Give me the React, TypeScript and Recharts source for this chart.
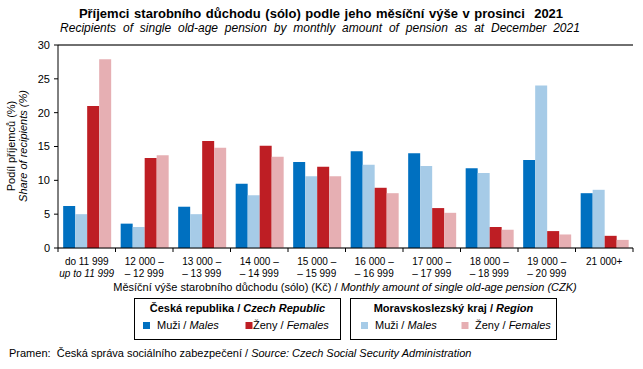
import React from "react";
import { BarChart, Bar, XAxis, YAxis, CartesianGrid, ReferenceLine } from "recharts";

const catLine1 = ["do 11 999", "12 000 –", "13 000 –", "14 000 –", "15 000 –", "16 000 –", "17 000 –", "18 000 –", "19 000 –", "21 000+"];
const catLine2 = ["up to 11 999", "– 12 999", "– 13 999", "– 14 999", "– 15 999", "– 16 999", "– 17 999", "– 18 999", "– 20 999", ""];
const czMales = [6.2, 3.6, 6.1, 9.5, 12.7, 14.3, 14.0, 11.8, 13.0, 8.1];
const regMales = [5.0, 3.1, 5.0, 7.8, 10.6, 12.3, 12.1, 11.1, 24.0, 8.6];
const czFemales = [21.0, 13.3, 15.8, 15.1, 12.0, 8.9, 5.9, 3.1, 2.5, 1.8];
const regFemales = [27.9, 13.7, 14.8, 13.5, 10.6, 8.1, 5.2, 2.7, 2.0, 1.2];
const yTicks = [0, 5, 10, 15, 20, 25, 30];

const COLORS = {
  czM: "#0070C0",
  regM: "#A6CBE7",
  czF: "#BE1E24",
  regF: "#E6AFB3",
};

const data = catLine1.map((c, i) => ({
  cat: c,
  czM: czMales[i],
  regM: regMales[i],
  czF: czFemales[i],
  regF: regFemales[i],
}));

const FONT = "'Liberation Sans', Arial, sans-serif";

const XTick = (props: any) => {
  const { x, y, payload } = props;
  const i = payload.index;
  const half = payload.offset ?? 0;
  const last = i === catLine1.length - 1;
  return (
    <g>
      <line x1={x - half} x2={x - half} y1={y} y2={y + 4} stroke="#000" />
      {last && <line x1={x + half} x2={x + half} y1={y} y2={y + 4} stroke="#000" />}
      <text x={x} y={y + 17} textAnchor="middle" fontSize={10} fontFamily={FONT} fill="#000">
        {catLine1[i]}
      </text>
      {catLine2[i] && (
        <text
          x={x}
          y={y + 28.5}
          textAnchor="middle"
          fontSize={10}
          fontFamily={FONT}
          fill="#000"
          fontStyle={i === 0 ? "italic" : "normal"}
        >
          {catLine2[i]}
        </text>
      )}
    </g>
  );
};

export default function App() {
  return (
    <div style={{ position: "absolute", left: 0, top: 0, width: 643, height: 369, background: "#fff" }}>
      <BarChart
        width={643}
        height={369}
        data={data}
        margin={{ top: 45, right: 10, left: 28, bottom: 81 }}
        barCategoryGap="9%"
        barGap={0}
      >
        <CartesianGrid vertical={false} stroke="#BFBFBF" strokeWidth={1} />
        <XAxis
          dataKey="cat"
          height={40}
          axisLine={{ stroke: "#000" }}
          tickLine={false}
          tickSize={0}
          tickMargin={0}
          interval={0}
          tick={<XTick />}
        />
        <YAxis
          yAxisId="l"
          width={30}
          domain={[0, 30]}
          ticks={yTicks}
          interval={0}
          axisLine={{ stroke: "#000" }}
          tickLine={{ stroke: "#000" }}
          tickSize={4}
          tickMargin={4}
          tick={{ fontSize: 11, fill: "#000", fontFamily: FONT }}
        />
        <YAxis
          yAxisId="r"
          orientation="right"
          width={0}
          domain={[0, 30]}
          ticks={yTicks}
          axisLine={{ stroke: "#000" }}
          tickLine={false}
          tick={false}
        />
        <ReferenceLine yAxisId="l" y={30} stroke="#000" />
        <Bar yAxisId="l" dataKey="czM" fill={COLORS.czM} isAnimationActive={false} />
        <Bar yAxisId="l" dataKey="regM" fill={COLORS.regM} isAnimationActive={false} />
        <Bar yAxisId="l" dataKey="czF" fill={COLORS.czF} isAnimationActive={false} />
        <Bar yAxisId="l" dataKey="regF" fill={COLORS.regF} isAnimationActive={false} />
      </BarChart>
      <svg
        width={643}
        height={369}
        style={{ position: "absolute", left: 0, top: 0, pointerEvents: "none" }}
        fontFamily={FONT}
      >
        <text x={321} y={17.5} textAnchor="middle" fontSize={13} fontWeight="bold" wordSpacing={1} fill="#000">
          Příjemci starobního důchodu (sólo) podle jeho měsíční výše v prosinci{"\u00a0"} 2021
        </text>
        <text x={320} y={31.5} textAnchor="middle" fontSize={12} fontStyle="italic" wordSpacing={3.5} fill="#000">
          Recipients of single old-age pension by monthly amount of pension as at December 2021
        </text>
        <text transform="translate(14.5,146) rotate(-90)" textAnchor="middle" fontSize={11} fill="#000">
          Podíl příjemců (%)
        </text>
        <text transform="translate(26.5,146) rotate(-90)" textAnchor="middle" fontSize={11} fontStyle="italic" fill="#000">
          Share of recipients (%)
        </text>
        <text x={345} y={291} textAnchor="middle" fontSize={11} fill="#000">
          Měsíční výše starobního důchodu (sólo) (Kč) / <tspan fontStyle="italic">Monthly amount of single old-age pension (CZK)</tspan>
        </text>
        <rect x={134.5} y={298.5} width={206} height={41} fill="none" stroke="#000" />
        <text x={237.5} y={312} textAnchor="middle" fontSize={11} fontWeight="bold" fill="#000">
          Česká republika / <tspan fontStyle="italic">Czech Republic</tspan>
        </text>
        <rect x={143} y={322} width={7} height={7} fill={COLORS.czM} />
        <text x={157} y={329} fontSize={11} fill="#000">
          Muži / <tspan fontStyle="italic">Males</tspan>
        </text>
        <rect x={245.5} y={322} width={7} height={7} fill={COLORS.czF} />
        <text x={253} y={329} fontSize={11} fill="#000">
          Ženy / <tspan fontStyle="italic">Females</tspan>
        </text>
        <rect x={350.5} y={298.5} width={206} height={41} fill="none" stroke="#000" />
        <text x={453.5} y={312} textAnchor="middle" fontSize={11} fontWeight="bold" fill="#000">
          Moravskoslezský kraj / <tspan fontStyle="italic">Region</tspan>
        </text>
        <rect x={361} y={322} width={7} height={7} fill={COLORS.regM} />
        <text x={375} y={329} fontSize={11} fill="#000">
          Muži / <tspan fontStyle="italic">Males</tspan>
        </text>
        <rect x={461.5} y={322} width={7} height={7} fill={COLORS.regF} />
        <text x={475} y={329} fontSize={11} fill="#000">
          Ženy / <tspan fontStyle="italic">Females</tspan>
        </text>
        <text x={9} y={357} fontSize={11} fill="#000">
          Pramen:{"\u00a0"} Česká správa sociálního zabezpečení / <tspan fontStyle="italic">Source: Czech Social Security Administration</tspan>
        </text>
      </svg>
    </div>
  );
}
